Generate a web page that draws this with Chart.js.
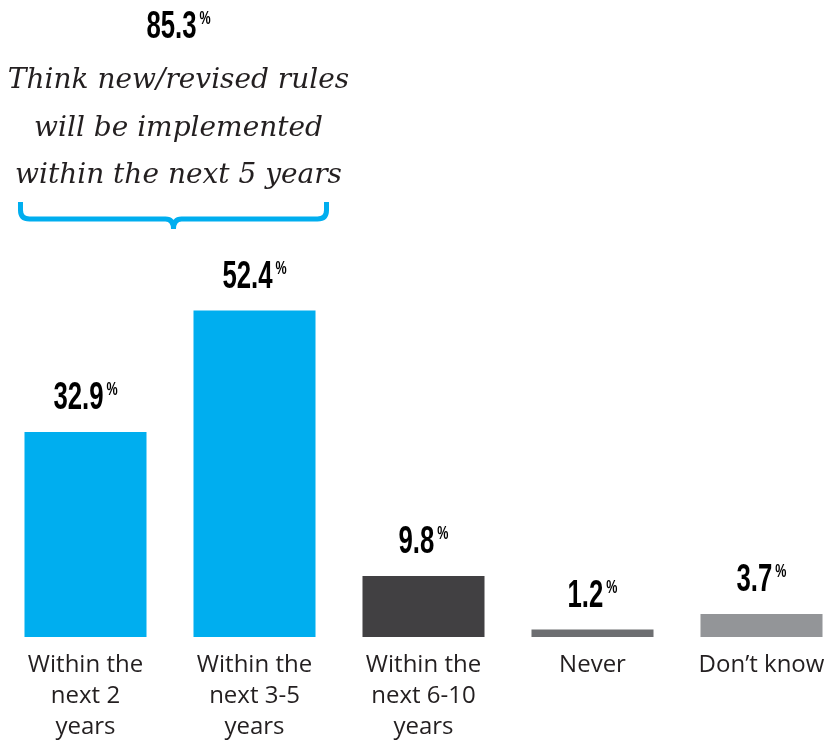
<!DOCTYPE html>
<html>
<head>
<meta charset="utf-8">
<script src="https://cdn.jsdelivr.net/npm/chart.js@4/dist/chart.umd.min.js"></script>
<style>
  html, body { margin: 0; padding: 0; background: #fff; overflow: hidden; width: 832px; height: 744px; }
  #wrap { position: absolute; left: 1px; top: 0; width: 845px; height: 758px; }
</style>
</head>
<body>
<div id="wrap"><canvas id="chart"></canvas></div>
<script>
const categories = [
  ['Within the', 'next 2', 'years'],
  ['Within the', 'next 3-5', 'years'],
  ['Within the', 'next 6-10', 'years'],
  'Never',
  'Don\u2019t know'
]
const values = [32.9, 52.4, 9.8, 1.2, 3.7]
const barColors = ['#00aeef', '#00aeef', '#414042', '#6d6e71', '#939598']
const headlineValue = 85.3
const headlineLines = ['Think new/revised rules', 'will be implemented', 'within the next 5 years']
const groupedBars = [0, 1]

const textColor = '#231f20'
const blue = '#00aeef'

// condensed bold number with a small superscript %
function drawPercent(ctx, value, cx, baseline) {
  const squeeze = 0.66
  const numFont = 'bold 39px "Liberation Sans"'
  const pctFont = 'bold 19px "Liberation Sans"'
  const txt = value.toFixed(1)
  ctx.font = numFont
  const nw = ctx.measureText(txt).width * squeeze
  ctx.font = pctFont
  const pw = ctx.measureText('%').width * squeeze
  const gap = 3
  const start = cx - (nw + gap + pw) / 2
  ctx.save()
  ctx.fillStyle = '#000'
  ctx.textBaseline = 'alphabetic'
  ctx.textAlign = 'left'
  ctx.translate(start, baseline)
  ctx.scale(squeeze, 1)
  ctx.font = numFont
  ctx.fillText(txt, 0, 0)
  ctx.font = pctFont
  ctx.fillText('%', (nw + gap) / squeeze, -14)
  ctx.restore()
}

const annotations = {
  id: 'annotations',
  afterDatasetsDraw(chart) {
    const ctx = chart.ctx
    const bars = chart.getDatasetMeta(0).data
    bars.forEach((bar, i) => {
      drawPercent(ctx, values[i], bar.x, bar.y - 23)
    })

    const first = bars[groupedBars[0]]
    const last = bars[groupedBars[groupedBars.length - 1]]
    const left = first.x - first.width / 2 - 4
    const right = last.x + last.width / 2 + 11
    const mid = (left + right) / 2

    // brace
    const top = 202, line = 219, tip = 229, r = 9
    ctx.save()
    ctx.strokeStyle = blue
    ctx.lineWidth = 5
    ctx.lineCap = 'butt'
    ctx.beginPath()
    ctx.moveTo(left, top)
    ctx.lineTo(left, line - r)
    ctx.quadraticCurveTo(left, line, left + r, line)
    ctx.lineTo(mid - 8, line)
    ctx.quadraticCurveTo(mid, line, mid, tip)
    ctx.moveTo(mid, tip)
    ctx.quadraticCurveTo(mid, line, mid + 8, line)
    ctx.lineTo(right - r, line)
    ctx.quadraticCurveTo(right, line, right, line - r)
    ctx.lineTo(right, top)
    ctx.stroke()
    ctx.restore()

    // headline
    const textX = mid + 5
    drawPercent(ctx, headlineValue, textX, 38)
    ctx.save()
    ctx.fillStyle = textColor
    ctx.textAlign = 'center'
    ctx.textBaseline = 'alphabetic'
    ctx.font = 'italic 28px "DejaVu Serif"'
    headlineLines.forEach((t, i) => {
      ctx.fillText(t, textX, 88 + i * 47.5)
    })
    ctx.restore()
  }
}

new Chart(document.getElementById('chart'), {
  type: 'bar',
  data: {
    labels: categories,
    datasets: [{
      data: values,
      backgroundColor: barColors,
      borderWidth: 0,
      barPercentage: 0.722,
      categoryPercentage: 1
    }]
  },
  options: {
    responsive: true,
    maintainAspectRatio: false,
    animation: false,
    layout: { padding: { top: 14, left: 0, right: 0, bottom: 2 } },
    plugins: {
      legend: { display: false },
      tooltip: { enabled: false }
    },
    scales: {
      x: {
        grid: { display: false, drawTicks: false, tickLength: 0 },
        border: { display: false },
        ticks: {
          padding: 13,
          maxRotation: 0,
          autoSkip: false,
          color: textColor,
          font: { family: '"Open Sans"', size: 24, lineHeight: '31px' }
        }
      },
      y: { display: false, min: 0, max: 100 }
    }
  },
  plugins: [annotations]
})
</script>
</body>
</html>
